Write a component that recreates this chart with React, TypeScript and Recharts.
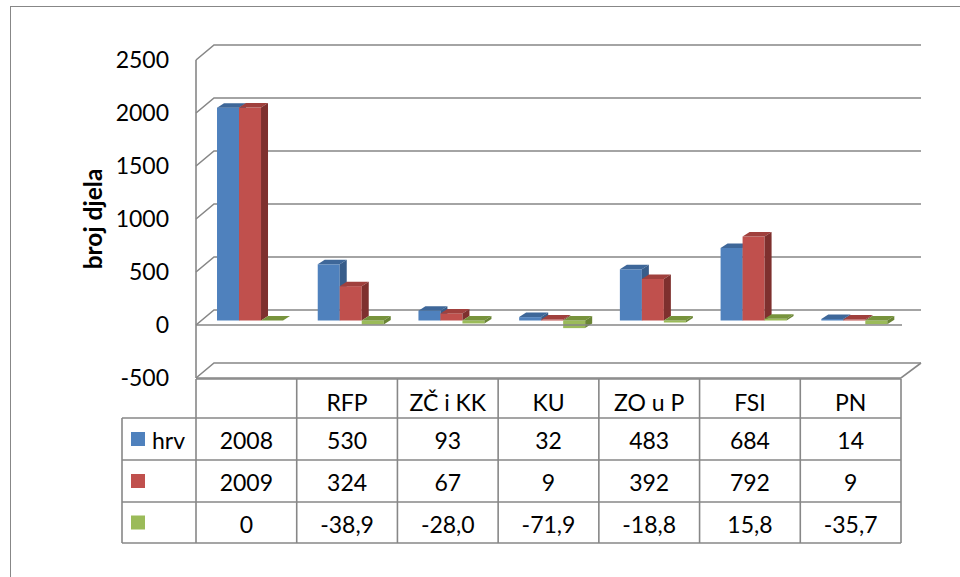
import React from "react";
import { BarChart, Bar, XAxis, YAxis, CartesianGrid, ReferenceLine } from "recharts";

const categories = ["", "RFP", "ZČ i KK", "KU", "ZO u P", "FSI", "PN"];
const hrv2008 = [2008, 530, 93, 32, 483, 684, 14];
const hrv2009 = [2009, 324, 67, 9, 392, 792, 9];
const change = [0, -38.9, -28.0, -71.9, -18.8, 15.8, -35.7];
const seriesNames = ["hrv", "", ""];
const yTicks = [-500, 0, 500, 1000, 1500, 2000, 2500];

const data = categories.map((name, i) => ({
  name,
  a: hrv2008[i],
  b: hrv2009[i],
  c: change[i],
}));

const W = 960;
const H = 577;
const PLOT_LEFT = 196;
const PLOT_RIGHT = 901;
const PLOT_TOP = 60;
const PLOT_BOTTOM = 378;
const Y_AXIS_W = 70;
const GRID = "#878787";
const FONT = "Lato, 'Open Sans', sans-serif";
const FS = 23;

// wall depth and bar depth
const WX = 18;
const WY = 15;
const DX = 7;
const DY = 4.5;
const OX = 4.3;
const OY = -4.5;

const colors = [
  { front: "#4F81BD", top: "#3E6799", side: "#385D8A" },
  { front: "#C0504D", top: "#A0403D", side: "#7E302E" },
  { front: "#9BBB59", top: "#77933C", side: "#6A8535" },
];

const bar3d = (c: { front: string; top: string; side: string }) => (props: any) => {
  const { x, y, width, height } = props;
  if (x == null || y == null) return <g />;
  const y0 = Math.min(y, y + height) + OY;
  const y1 = Math.max(y, y + height) + OY;
  const x0 = x + OX;
  const x1 = x0 + width;
  return (
    <g>
      <rect x={x0} y={y0} width={width} height={Math.max(0, y1 - y0)} fill={c.front} />
      <polygon
        points={`${x0},${y0} ${x0 + DX},${y0 - DY} ${x1 + DX},${y0 - DY} ${x1},${y0}`}
        fill={c.top}
      />
      <polygon
        points={`${x1},${y0} ${x1 + DX},${y0 - DY} ${x1 + DX},${y1 - DY} ${x1},${y1}`}
        fill={c.side}
      />
    </g>
  );
};

const gridLine = (p: any) => {
  const { x1, x2, y1 } = p;
  return (
    <path
      key={`grid-${y1}`}
      d={`M${x1},${y1} L${x1 + WX},${y1 - WY} L${x2 + WX + 2},${y1 - WY}`}
      stroke={GRID}
      strokeWidth={1.6}
      fill="none"
    />
  );
};

const floorLine = (p: any) => (
  <path d={`M${p.x1},${p.y1} L${p.x2 + 1},${p.y1}`} stroke={GRID} strokeWidth={1.6} fill="none" />
);

const bottomLine = (p: any) => (
  <path
    d={`M${p.x1},${p.y1} L${p.x2},${p.y1} L${p.x2 + WX + 2},${p.y1 - WY}`}
    stroke={GRID}
    strokeWidth={1.6}
    fill="none"
  />
);

const fmtChange = (v: number) => (v === 0 ? "0" : v.toFixed(1).replace(".", ","));

const tableRows = [
  hrv2008.map(String),
  hrv2009.map(String),
  change.map(fmtChange),
];

const COL_W = (PLOT_RIGHT - PLOT_LEFT) / categories.length;
const LEG_LEFT = 122;
const ROW_Y = [379, 418, 460, 502, 543];

const DataTable: React.FC = () => {
  const lines: React.ReactNode[] = [];
  lines.push(<line key="h0" x1={PLOT_LEFT} x2={PLOT_RIGHT} y1={ROW_Y[0]} y2={ROW_Y[0]} />);
  for (let r = 1; r < ROW_Y.length; r++) {
    lines.push(<line key={`h${r}`} x1={LEG_LEFT} x2={PLOT_RIGHT} y1={ROW_Y[r]} y2={ROW_Y[r]} />);
  }
  lines.push(<line key="vl" x1={LEG_LEFT} x2={LEG_LEFT} y1={ROW_Y[1]} y2={ROW_Y[4]} />);
  for (let i = 0; i <= categories.length; i++) {
    const x = PLOT_LEFT + i * COL_W;
    lines.push(<line key={`v${i}`} x1={x} x2={x} y1={ROW_Y[0]} y2={ROW_Y[4]} />);
  }
  return (
    <svg
      width={W}
      height={H}
      style={{ position: "absolute", left: 0, top: 0, pointerEvents: "none" }}
    >
      <g stroke={GRID} strokeWidth={1.6}>{lines}</g>
      <g fontFamily={FONT} fontSize={FS} fill="#000" textAnchor="middle">
        {categories.map((c, i) => (
          <text key={`c${i}`} x={PLOT_LEFT + (i + 0.5) * COL_W} y={402} dominantBaseline="central">
            {c}
          </text>
        ))}
        {tableRows.map((row, r) =>
          row.map((v, i) => (
            <text
              key={`r${r}-${i}`}
              x={PLOT_LEFT + (i + 0.5) * COL_W}
              y={(ROW_Y[r + 1] + ROW_Y[r + 2]) / 2 + 1}
              dominantBaseline="central"
            >
              {v}
            </text>
          ))
        )}
      </g>
      {colors.map((c, r) => {
        const cy = (ROW_Y[r + 1] + ROW_Y[r + 2]) / 2;
        return (
          <g key={`leg${r}`}>
            <rect x={131} y={cy - 7} width={14} height={14} fill={c.front} />
            <text
              x={152}
              y={cy + 1}
              fontFamily={FONT}
              fontSize={FS}
              dominantBaseline="central"
              fill="#000"
            >
              {seriesNames[r]}
            </text>
          </g>
        );
      })}
    </svg>
  );
};

const AxisTitle = (props: any) => {
  const vb = props.viewBox || {};
  const cx = vb.x - 34;
  const cy = vb.y + vb.height / 2;
  return (
    <text
      x={cx}
      y={cy}
      transform={`rotate(-90, ${cx}, ${cy})`}
      textAnchor="middle"
      dominantBaseline="central"
      fontFamily={FONT}
      fontSize={24.5}
      fontWeight="bold"
      fill="#000"
    >
      broj djela
    </text>
  );
};

const App: React.FC = () => {
  return (
    <div
      style={{
        position: "fixed",
        left: 0,
        top: 0,
        width: W,
        height: H,
        overflow: "hidden",
        background: "#fff",
      }}
    >
      <div
        style={{
          position: "absolute",
          left: 10,
          top: 6,
          width: W + 20,
          height: H + 20,
          border: `1.6px solid ${GRID}`,
        }}
      />
      <BarChart
        width={W}
        height={H}
        data={data}
        barCategoryGap="16.6%"
        barGap={0}
        margin={{
          top: PLOT_TOP,
          bottom: H - PLOT_BOTTOM,
          left: PLOT_LEFT - Y_AXIS_W,
          right: W - PLOT_RIGHT,
        }}
        style={{ position: "absolute", left: 0, top: 0 }}
      >
        <CartesianGrid vertical={false} horizontal={gridLine} />
        <XAxis dataKey="name" hide />
        <YAxis
          width={Y_AXIS_W}
          domain={[-500, 2500]}
          ticks={yTicks}
          tickSize={0}
          tickMargin={27}
          tickLine={false}
          axisLine={{ stroke: GRID, strokeWidth: 1.6 }}
          tick={{ fontFamily: FONT, fontSize: FS, fill: "#000" }}
          label={{ content: AxisTitle }}
        />
        <ReferenceLine y={0} shape={floorLine} />
        <ReferenceLine y={-500} shape={bottomLine} />
        <Bar dataKey="a" isAnimationActive={false} shape={bar3d(colors[0])} />
        <Bar dataKey="b" isAnimationActive={false} shape={bar3d(colors[1])} />
        <Bar dataKey="c" isAnimationActive={false} shape={bar3d(colors[2])} />
      </BarChart>
      <DataTable />
    </div>
  );
};

export default App;
